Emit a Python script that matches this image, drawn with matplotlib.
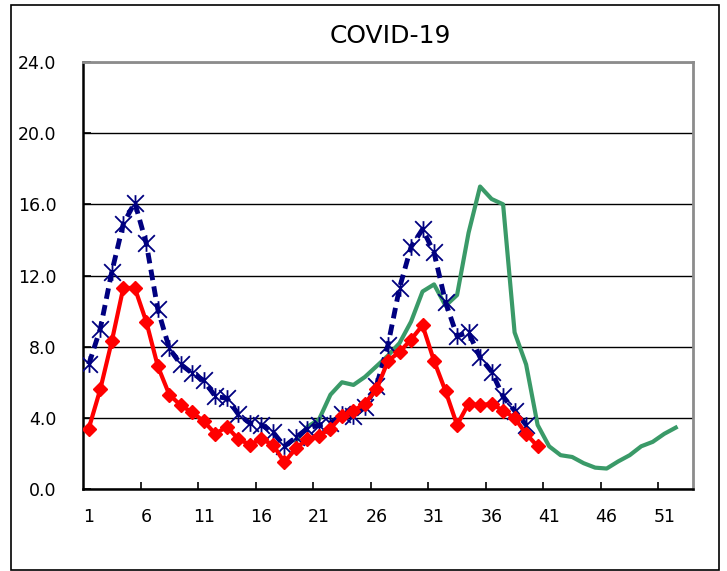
import matplotlib.pyplot as plt
from matplotlib.patches import Rectangle
from matplotlib.path import Path

# Weekly values
red_weeks = list(range(1, 41))
red_vals = [3.4, 5.6, 8.3, 11.3, 11.3, 9.4, 6.9, 5.3, 4.7, 4.3,
            3.8, 3.1, 3.5, 2.8, 2.5, 2.8, 2.5, 1.5, 2.3, 2.8,
            3.0, 3.4, 4.1, 4.4, 4.8, 5.6, 7.2, 7.7, 8.4, 9.2,
            7.2, 5.5, 3.6, 4.8, 4.7, 4.8, 4.4, 4.0, 3.1, 2.4]

blue_weeks = list(range(1, 40))
blue_vals = [7.0, 9.0, 12.2, 14.9, 16.1, 13.8, 10.1, 7.9, 7.0, 6.5,
             6.1, 5.2, 5.1, 4.2, 3.7, 3.6, 3.2, 2.4, 2.9, 3.4,
             3.6, 3.7, 4.2, 4.1, 4.6, 5.8, 8.1, 11.3, 13.6, 14.6,
             13.3, 10.5, 8.6, 8.8, 7.4, 6.6, 5.2, 4.4, 3.6]

green_weeks = list(range(19, 53))
green_vals = [2.7, 3.5, 3.9, 5.3, 6.0, 5.85, 6.3, 6.9, 7.5, 8.2,
              9.4, 11.1, 11.5, 10.3, 10.9, 14.4, 17.0, 16.3, 16.0, 8.8,
              7.0, 3.6, 2.4, 1.9, 1.8, 1.45, 1.2, 1.15, 1.55, 1.9,
              2.4, 2.65, 3.1, 3.45]

xtick_labels = [str(w) for w in range(1, 54, 5)]
ytick_vals = [0, 4, 8, 12, 16, 20, 24]

# Excel-like star marker: an X with a vertical bar
star = Path([(-1, -1), (1, 1), (-1, 1), (1, -1), (0, -1), (0, 1)],
            [Path.MOVETO, Path.LINETO, Path.MOVETO, Path.LINETO,
             Path.MOVETO, Path.LINETO])

fig = plt.figure(figsize=(7.27, 5.71), dpi=100)
ax = fig.add_axes([83 / 727, 1 - 489 / 571, 610 / 727, 427 / 571])

# outer chart border
fig.patches.append(Rectangle((11 / 727, 1 - 570 / 571), 708 / 727, 565 / 571,
                             transform=fig.transFigure, fill=False,
                             edgecolor='black', linewidth=1.2))

ax.plot(green_weeks, green_vals, color='#3a9a68', linewidth=3, zorder=3)
ax.plot(blue_weeks, blue_vals, color='#000080', linewidth=3.5,
        linestyle=(0, (2.2, 1.3)), zorder=4)
ax.plot(blue_weeks, blue_vals, linestyle='none', marker=star, markersize=12,
        markeredgewidth=1.3, markeredgecolor='#000080', zorder=4)
ax.plot(red_weeks, red_vals, color='#ff0000', linewidth=3,
        marker='D', markersize=7, zorder=5)

ax.set_xlim(0.5, 53.5)
ax.set_ylim(0, 24)

ax.set_xticks(range(1, 54, 5))
ax.set_xticklabels(xtick_labels, fontsize=12.5)
ax.set_xticks([w + 0.5 for w in range(5, 51, 5)], minor=True)
ax.tick_params(axis='x', which='major', length=0, pad=14)
ax.tick_params(axis='x', which='minor', direction='in', length=5,
               width=1.2, color='black')

ax.set_yticks(ytick_vals)
ax.set_yticklabels([f'{v:.1f}' for v in ytick_vals], fontsize=12.5)
ax.tick_params(axis='y', direction='in', length=6, width=1.2, pad=19)

ax.grid(axis='y', color='black', linewidth=1)
ax.set_axisbelow(True)

for side in ['top', 'right']:
    ax.spines[side].set_color('#8c8c8c')
    ax.spines[side].set_linewidth(2)
for side in ['left', 'bottom']:
    ax.spines[side].set_color('black')
    ax.spines[side].set_linewidth(1.8)

fig.text(0.537, 1 - 36 / 571, 'COVID-19', fontsize=18, ha='center', va='center')

fig.savefig('out.png', dpi=100)
